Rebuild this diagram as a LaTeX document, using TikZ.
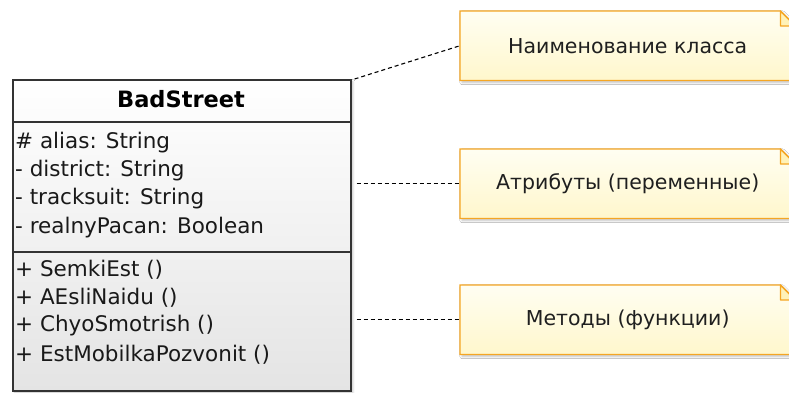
\documentclass[tikz,border=0pt]{standalone}
\usepackage{fontspec}
\setmainfont{DejaVu Sans}
\usetikzlibrary{calc,backgrounds,shadows.blur}
\definecolor{noteedge}{HTML}{F5A623}
\definecolor{notetop}{HTML}{FFFEF2}
\definecolor{notebottom}{HTML}{FFF7CC}
\definecolor{notefoldfill}{HTML}{FFF2B8}
\definecolor{classedge}{HTML}{333333}
\definecolor{classbottom}{HTML}{E4E4E4}
\begin{document}
\begin{tikzpicture}[x=1pt,y=-1pt,
  classbox/.style={rectangle, draw=classedge, line width=1.6pt,
    top color=white, bottom color=classbottom, anchor=north west,
    blur shadow={shadow xshift=2pt, shadow yshift=-2pt, shadow opacity=25, shadow blur steps=6}},
  member/.style={anchor=west, inner sep=0pt, font=\fontsize{21.5}{24}\selectfont, text=black!90},
  title/.style={inner sep=0pt, font=\fontsize{22.5}{26}\selectfont\bfseries},
  note/.style={rectangle, draw=none, inner sep=0pt, minimum width=335pt, minimum height=69pt,
    anchor=north west, font=\fontsize{20.5}{24}\selectfont, text=black!88},
  notebody/.style={draw=noteedge, line width=1.3pt, top color=notetop, bottom color=notebottom,
    blur shadow={shadow xshift=2pt, shadow yshift=-2pt, shadow opacity=25, shadow blur steps=6}},
  notefold/.style={draw=noteedge, line width=1.3pt, fill=notefoldfill, line join=round},
  conn/.style={draw=black, line width=1.1pt, dash pattern=on 4pt off 3pt}]
\clip (0,0) rectangle (789,392);

% class box with its three compartments
\node[classbox, minimum width=338pt, minimum height=311pt] (cls) at (12,79) {};
\draw[classedge, line width=1.3pt] (12,122) -- (350,122);
\draw[classedge, line width=1.3pt] (12,252) -- (350,252);
\node[title] (cname) at (181,99) {BadStreet};

\node[member] (a1) at (15,143) {\# alias: String};
\node[member] (a2) at (15,171) {- district: String};
\node[member] (a3) at (15,199) {- tracksuit: String};
\node[member] (a4) at (15,228) {- realnyPacan: Boolean};

\node[member] (m1) at (15,270) {+ SemkiEst ()};
\node[member] (m2) at (15,298) {+ AEsliNaidu ()};
\node[member] (m3) at (15,326) {+ ChyoSmotrish ()};
\node[member] (m4) at (15,355) {+ EstMobilkaPozvonit ()};

% comment notes
\node[note] (n1) at (460,11) {Наименование класса};
\node[note] (n2) at (460,149) {Атрибуты (переменные)};
\node[note] (n3) at (460,285) {Методы (функции)};

\begin{scope}[on background layer]
\fill[white] (0,0) rectangle (789,392);
\foreach \n in {n1,n2,n3} {
  \path[notebody] (\n.north west) -- ($(\n.north east)+(-15,0)$) -- ($(\n.north east)+(0,15)$)
    -- (\n.south east) -- (\n.south west) -- cycle;
  \path[notefold] ($(\n.north east)+(-15,0)$) -- ($(\n.north east)+(-15,15)$)
    -- ($(\n.north east)+(0,15)$) -- cycle;
}
\end{scope}

% dashed links from the class to the notes
\draw[conn] (cls.north east) ++(3,0) -- (n1.west);
\draw[conn] (cls.east |- n2.west) ++(5,0) -- (n2.west);
\draw[conn] (cls.east |- n3.west) ++(5,0) -- (n3.west);
\end{tikzpicture}
\end{document}
